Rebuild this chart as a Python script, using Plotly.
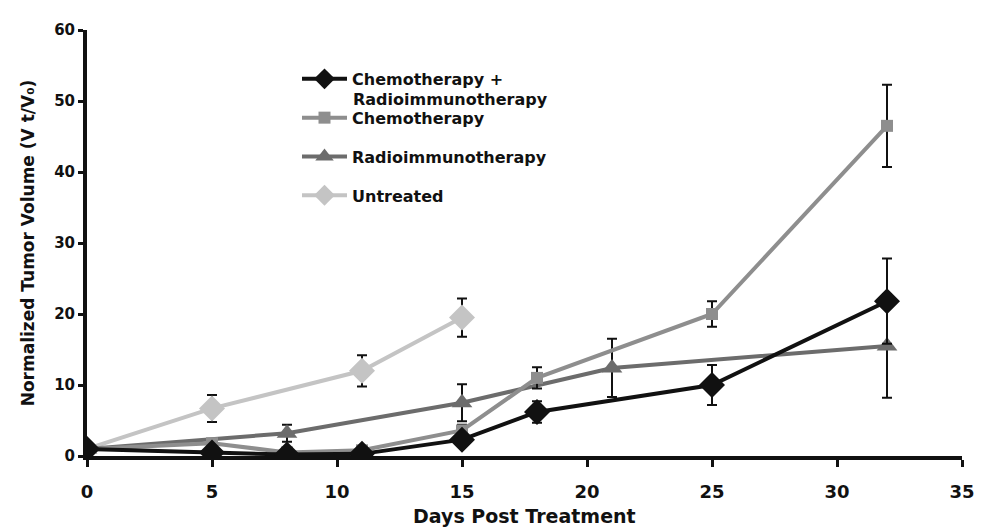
import plotly.graph_objects as go

# Data
days_combo = [0, 5, 8, 11, 15, 18, 25, 32]
vol_combo = [1.0, 0.5, 0.2, 0.3, 2.3, 6.2, 10.0, 21.8]
err_combo = [0.3, 0.4, 0.3, 0.3, 0.6, 1.5, 2.8, 6.0]

days_chemo = [0, 5, 8, 11, 15, 18, 25, 32]
vol_chemo = [1.0, 1.8, 0.5, 0.8, 3.6, 11.0, 20.0, 46.5]
err_chemo = [0.3, 0.4, 0.3, 0.4, 0.8, 1.5, 1.8, 5.8]

days_rit = [0, 8, 15, 21, 32]
vol_rit = [1.0, 3.2, 7.5, 12.4, 15.5]
err_rit = [0.3, 1.2, 2.6, 4.1, 7.3]

days_untr = [0, 5, 11, 15]
vol_untr = [1.0, 6.7, 12.0, 19.5]
err_untr = [0.3, 1.9, 2.2, 2.7]

names = ["Chemotherapy +", "Chemotherapy", "Radioimmunotherapy", "Untreated"]
name_combo_line2 = "Radioimmunotherapy"
x_title = "Days Post Treatment"
y_title = "Normalized Tumor Volume (V t/V₀)"
x_ticks = [0, 5, 10, 15, 20, 25, 30, 35]
y_ticks = [0, 10, 20, 30, 40, 50, 60]

FONT = "DejaVu Sans, Liberation Sans, Arial, sans-serif"
INK = "#111111"

fig = go.Figure()

def add(x, y, e, name, color, symbol, size, rank):
    fig.add_trace(go.Scatter(
        x=x, y=y, name=name, mode="lines+markers",
        line=dict(color=color, width=4),
        marker=dict(symbol=symbol, size=size, color=color),
        error_y=dict(type="data", array=e, visible=True, color=INK, thickness=2, width=5),
        legendrank=rank, legendgroup=name,
    ))

add(days_untr, vol_untr, err_untr, names[3], "#c4c4c4", "diamond", 20, 4)
add(days_rit, vol_rit, err_rit, names[2], "#6c6c6c", "triangle-up", 18, 3)
add(days_chemo, vol_chemo, err_chemo, names[1], "#8e8e8e", "square", 12, 2)
add(days_combo, vol_combo, err_combo, names[0], INK, "diamond", 20, 1)

fig.update_layout(
    width=999, height=530,
    margin=dict(l=87, r=37, t=30, b=74),
    paper_bgcolor="white", plot_bgcolor="white",
    font=dict(family=FONT, color=INK),
    showlegend=True,
    legend=dict(
        x=0.24, y=0.925, xanchor="left", yanchor="top",
        font=dict(family=FONT, size=16, color=INK, weight="bold"),
        bgcolor="rgba(0,0,0,0)", traceorder="grouped", tracegroupgap=15,
        itemwidth=45,
    ),
    annotations=[
        dict(text=name_combo_line2, xref="paper", yref="paper",
             x=0.302, y=0.838, xanchor="left", yanchor="middle", showarrow=False,
             font=dict(family=FONT, size=16, color=INK, weight="bold")),
        dict(text=x_title, xref="paper", yref="paper",
             x=0.5, y=-0.141, xanchor="center", yanchor="middle", showarrow=False,
             font=dict(family=FONT, size=19, color=INK, weight="bold")),
    ],
)

fig.update_xaxes(
    range=[0, 35], tickvals=x_ticks, ticktext=[str(v) for v in x_ticks],
    showgrid=False, zeroline=False, showline=True, linecolor=INK, linewidth=4,
    ticks="outside", tickwidth=3, ticklen=7, tickcolor=INK,
    tickfont=dict(family=FONT, size=18, color=INK, weight="bold"),
    ticklabelstandoff=9, automargin=False,
)
fig.update_yaxes(
    range=[0, 60], tickvals=y_ticks, ticktext=[str(v) for v in y_ticks],
    showgrid=False, zeroline=False, showline=True, linecolor=INK, linewidth=4,
    ticks="outside", tickwidth=3, ticklen=5, tickcolor=INK,
    tickfont=dict(family=FONT, size=15, color=INK, weight="bold"),
    automargin=False,
    title=dict(text=y_title, font=dict(family=FONT, size=17, color=INK, weight="bold"), standoff=16),
)

fig.write_html("out.html")
